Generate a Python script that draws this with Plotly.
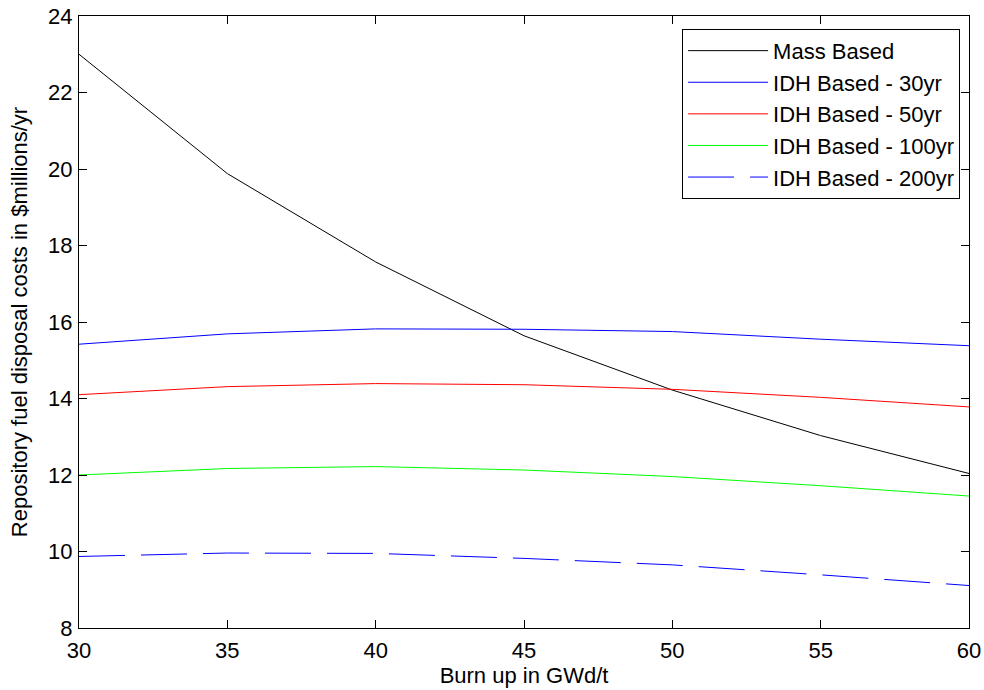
import plotly.graph_objects as go

burnup = [30, 35, 40, 45, 50, 55, 60]
mass_based = [23.0, 19.88, 17.57, 15.64, 14.22, 13.03, 12.04]
idh_30 = [15.42, 15.69, 15.82, 15.81, 15.75, 15.55, 15.38]
idh_50 = [14.10, 14.31, 14.39, 14.36, 14.24, 14.03, 13.78]
idh_100 = [12.00, 12.17, 12.22, 12.13, 11.96, 11.72, 11.45]
idh_200 = [9.87, 9.96, 9.95, 9.82, 9.65, 9.39, 9.11]

series_names = ["Mass Based", "IDH Based - 30yr", "IDH Based - 50yr",
                "IDH Based - 100yr", "IDH Based - 200yr"]
series_values = [mass_based, idh_30, idh_50, idh_100, idh_200]
colors = ["#000000", "#0000ff", "#ff0000", "#00ff00", "#0000ff"]
dashes = ["solid", "solid", "solid", "solid", "46px,16px"]

x_ticks = [30, 35, 40, 45, 50, 55, 60]
y_ticks = [8, 10, 12, 14, 16, 18, 20, 22, 24]

FONT = "Liberation Sans, Arial, Helvetica, sans-serif"
FS = 22

fig = go.Figure()
for name, vals, c, d in zip(series_names, series_values, colors, dashes):
    fig.add_trace(go.Scatter(x=burnup, y=vals, mode="lines", name=name,
                             line=dict(color=c, width=1, dash=d)))

axis_common = dict(showline=True, linecolor="black", linewidth=1, mirror="ticks",
                   ticks="inside", ticklen=8, tickcolor="black", tickwidth=1,
                   showgrid=False, zeroline=False, automargin=False,
                   tickfont=dict(family=FONT, size=FS, color="black"))

fig.update_xaxes(range=[30, 60], tickvals=x_ticks, ticklabelstandoff=3,
                 title=dict(text="Burn up in GWd/t", font=dict(family=FONT, size=FS, color="black"),
                            standoff=0),
                 **axis_common)
fig.update_yaxes(range=[8, 24], tickvals=y_ticks, ticklabelstandoff=1,
                 title=dict(text="Repository fuel disposal costs in $millions/yr",
                            font=dict(family=FONT, size=FS, color="black"), standoff=14),
                 **axis_common)

fig.update_layout(
    width=984, height=690,
    margin=dict(l=79, r=15, t=16, b=62),
    plot_bgcolor="white", paper_bgcolor="white",
    font=dict(family=FONT, size=FS, color="black"),
    legend=dict(x=0.99, y=0.979, xanchor="right", yanchor="top",
                bgcolor="white", bordercolor="black", borderwidth=1,
                font=dict(family=FONT, size=FS, color="black"),
                itemwidth=80),
)

fig.write_html("out.html")
